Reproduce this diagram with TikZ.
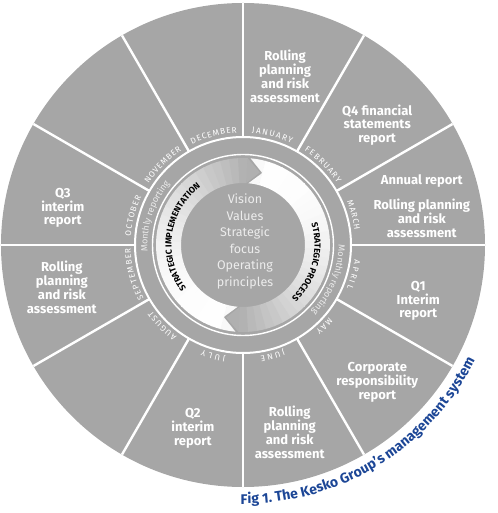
\documentclass[tikz,border=0pt]{standalone}
\usepackage{fontspec}
\setmainfont{Fira Sans}
\usetikzlibrary{decorations.text}

\definecolor{wheelgray}{RGB}{166,166,166}
\definecolor{headgray}{RGB}{176,176,176}
\definecolor{softwhite}{RGB}{236,236,236}
\definecolor{figblue}{RGB}{28,70,150}

\def\outerradius{242}
\def\monthradius{108}
\def\reportradius{90.5}
\def\ringout{87}
\def\ringin{62}
\def\ringmid{74.5}
\newcommand\monthfont{\fontsize{8.2}{9}\selectfont}
\newcommand\smallfont{\fontsize{9}{10}\selectfont}
\newcommand\labelfont{\fontsize{8.7}{10}\selectfont\bfseries}
\newcommand\figfont{\fontsize{14}{16}\selectfont\bfseries}

\tikzset{
  report/.style={text=white, font=\fontsize{13}{13.8}\selectfont\bfseries, align=center, inner sep=0pt},
  core/.style={text=softwhite, font=\fontsize{12.5}{16.6}\selectfont, align=center, inner sep=0pt}
}

\begin{document}
\begin{tikzpicture}[x=1pt,y=1pt]
  \useasboundingbox (-243,-268) rectangle (254,245);
  % wheel with twelve months
  \fill[wheelgray] (0,0) circle[radius=\outerradius];
  \foreach \a in {0,30,...,330}
    \draw[white, line width=2.4pt] (\a:\monthradius) -- (\a:\outerradius);
  \draw[white, line width=2pt] (0,0) circle[radius=\monthradius];
  \draw[white, line width=1.4pt] (0,0) circle[radius=\reportradius];

  % the two arrows of the inner ring
  \foreach \tail in {75,255} {
    \foreach \k in {0,...,27} {
      \pgfmathsetmacro\a{\tail-6*\k+0.3}
      \pgfmathsetmacro\b{\tail-6*\k-6.3}
      \pgfmathtruncatemacro\p{100*(1-((\k+0.5)/28)^2.2)} % white at the tail, gray at the head
      \fill[white!\p!headgray] (\a:\ringin) arc[start angle=\a, end angle=\b, radius=\ringin]
        -- (\b:\ringout) arc[start angle=\b, end angle=\a, radius=\ringout] -- cycle;
    }
    % notched tail
    \fill[white!92!headgray] (\tail+10:\ringout) arc[start angle=\tail+10, end angle=\tail, radius=\ringout]
      -- (\tail:\ringin) arc[start angle=\tail, end angle=\tail+10, radius=\ringin] -- (\tail:\ringmid) -- cycle;
    % pointed head
    \fill[headgray] (\tail-168:\ringout) -- (\tail-178:\ringmid) -- (\tail-168:\ringin) -- cycle;
  }

  % month names
  \foreach \m/\n [count=\i] in {JANUARY/7,FEBRUARY/8,MARCH/5,APRIL/5,MAY/3,JUNE/4,
      JULY/4,AUGUST/6,SEPTEMBER/9,OCTOBER/7,NOVEMBER/8,DECEMBER/8} {
    \pgfmathsetmacro\mid{105-30*\i}
    \pgfmathsetmacro\half{1.45*\n+0.3}
    \path[decorate, decoration={text along path, text/.expanded={|\noexpand\monthfont|\m},
        text color=white, text align=fit to path}]
      (\mid+\half:112.5) arc[start angle=\mid+\half, end angle=\mid-\half, radius=112.5];
  }

  % monthly reporting
  \path[decorate, decoration={text along path, text={|\smallfont|Monthly reporting},
      text color=softwhite, text align=center}]
    (192:95.5) arc[start angle=192, end angle=132, radius=95.5];
  \path[decorate, decoration={text along path, text={|\smallfont|Monthly reporting},
      text color=softwhite, text align=center}]
    (8:95.5) arc[start angle=8, end angle=-52, radius=95.5];

  % strategy labels on the arrows
  \path[decorate, decoration={text along path, text={|\labelfont|STRATEGIC IMPLEMENTATION},
      text color=black, text align=center}]
    (232:71.5) arc[start angle=232, end angle=112, radius=71.5];
  \path[decorate, decoration={text along path, text={|\labelfont|STRATEGIC PROCESS},
      text color=black, text align=center}]
    (30:71.5) arc[start angle=30, end angle=-60, radius=71.5];

  % centre
  \node[core] (core) at (2,3.5) {Vision\\Values\\Strategic\\focus\\Operating\\principles};

  % reports
  \node[report] (jan) at (76:174) {Rolling\\planning\\and risk\\assessment};
  \node[report] (feb) at (41.8:180) {Q4 financial\\statements\\report};
  \node[report] (mar) at (12.3:183) {Annual report\\[12pt]Rolling planning\\and risk\\assessment};
  \node[report] (apr) at (-17.7:184) {Q1\\Interim\\report};
  \node[report] (may) at (-45.6:192) {Corporate\\responsibility\\report};
  \node[report] (jun) at (-76:193) {Rolling\\planning\\and risk\\assessment};
  \node[report] (jul) at (-105.3:190) {Q2\\interim\\report};
  \node[report] (sep) at (193.1:186) {Rolling\\planning\\and risk\\assessment};
  \node[report] (oct) at (168.4:184) {Q3\\interim\\report};

  % caption
  \path[decorate, decoration={text along path, text={|\figfont|Fig 1. The Kesko Group’s management system},
      text color=figblue, text align=left}]
    (-90.5:259) arc[start angle=-90.5, end angle=-15, radius=259];
\end{tikzpicture}
\end{document}
